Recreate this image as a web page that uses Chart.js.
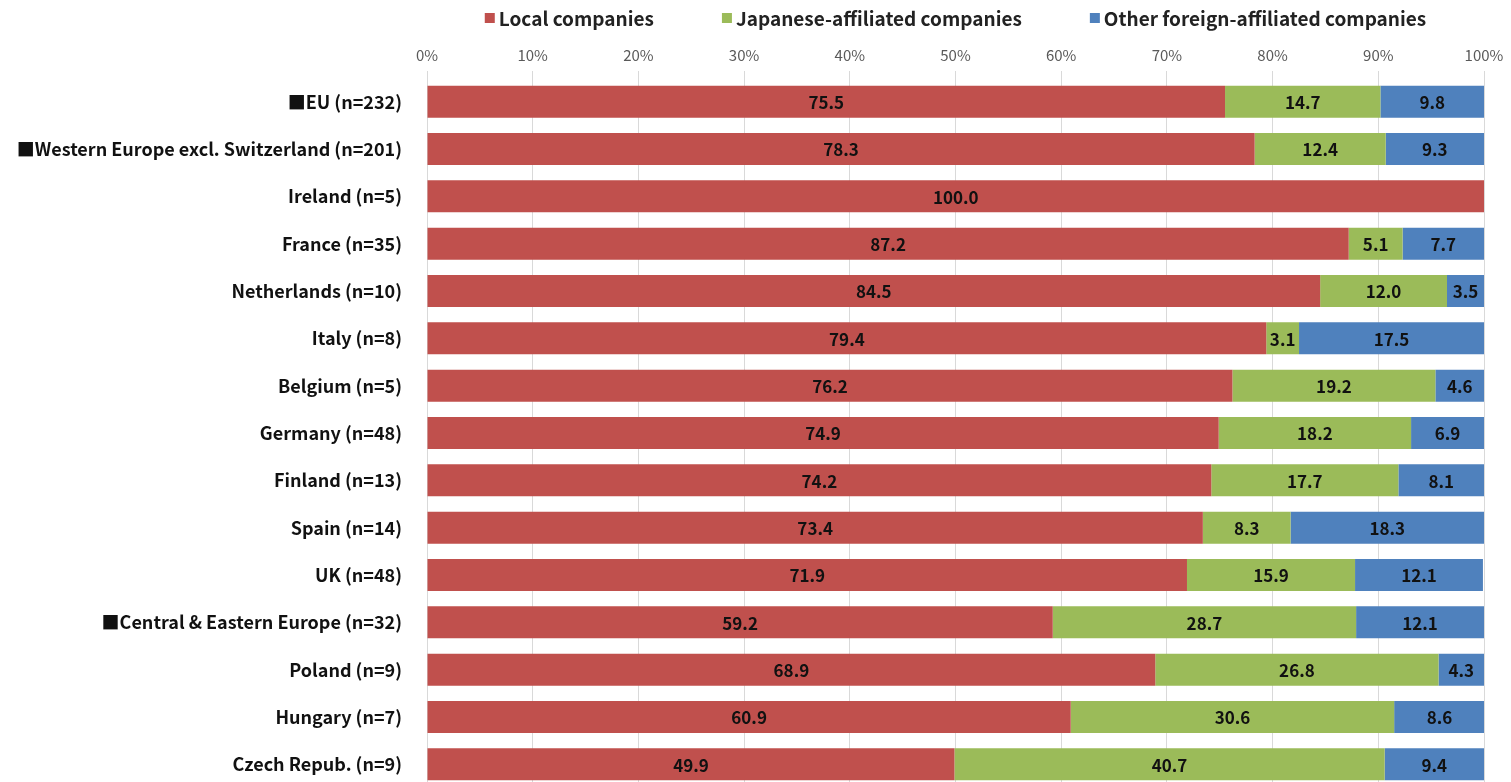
<!DOCTYPE html>
<html>
<head>
<meta charset="utf-8">
<script src="https://cdn.jsdelivr.net/npm/chart.js@4/dist/chart.umd.min.js"></script>
<style>
  html, body { margin: 0; padding: 0; background: #fff; overflow: hidden; }
  canvas { display: block; }
</style>
</head>
<body>
<!-- a little taller than the window: the original's last row is cut at the bottom edge -->
<canvas id="chart" width="1511" height="788"></canvas>
<script>
const regions = [
    '■EU (n=232)',
    '■Western Europe excl. Switzerland (n=201)',
    'Ireland (n=5)',
    'France (n=35)',
    'Netherlands (n=10)',
    'Italy (n=8)',
    'Belgium (n=5)',
    'Germany (n=48)',
    'Finland (n=13)',
    'Spain (n=14)',
    'UK (n=48)',
    '■Central & Eastern Europe (n=32)',
    'Poland (n=9)',
    'Hungary (n=7)',
    'Czech Repub. (n=9)',
];

const localCompanies     = [75.5, 78.3, 100.0, 87.2, 84.5, 79.4, 76.2, 74.9, 74.2, 73.4, 71.9, 59.2, 68.9, 60.9, 49.9];
const japaneseAffiliated = [14.7, 12.4, 0, 5.1, 12.0, 3.1, 19.2, 18.2, 17.7, 8.3, 15.9, 28.7, 26.8, 30.6, 40.7];
const otherForeign       = [9.8, 9.3, 0, 7.7, 3.5, 17.5, 4.6, 6.9, 8.1, 18.3, 12.1, 12.1, 4.3, 8.6, 9.4];

const seriesNames  = ['Local companies', 'Japanese-affiliated companies', 'Other foreign-affiliated companies'];
const seriesColors = ['#C0504D', '#9BBB59', '#4F81BD'];
const xTicks = [0, 10, 20, 30, 40, 50, 60, 70, 80, 90, 100];

const FONT = '"Noto Sans CJK JP", "Noto Sans", sans-serif';

// value in the middle of each segment, empty segments skipped
const barValues = {
    id: 'barValues',
    afterDatasetsDraw(chart) {
        const ctx = chart.ctx;
        ctx.save();
        ctx.font = `bold 17px ${FONT}`;
        ctx.fillStyle = '#111';
        ctx.textAlign = 'center';
        ctx.textBaseline = 'middle';
        chart.data.datasets.forEach((ds, di) => {
            chart.getDatasetMeta(di).data.forEach((bar, i) => {
                const v = ds.data[i];
                if (!v) return;
                ctx.fillText(v.toFixed(1), (bar.x + bar.base) / 2, bar.y + 1);
            });
        });
        ctx.restore();
    },
};

// legend row drawn above the axis, centred on the plot area, wide gaps like the original
const topLegend = {
    id: 'topLegend',
    afterDraw(chart) {
        const ctx = chart.ctx;
        const box = 10, gap = 4, spacing = 68, y = 18;
        ctx.save();
        ctx.font = `bold 19px ${FONT}`;
        ctx.textBaseline = 'middle';
        const items = chart.data.datasets.map(ds => ({
            text: ds.label, color: ds.backgroundColor, w: ctx.measureText(ds.label).width,
        }));
        const total = items.reduce((s, it) => s + box + gap + it.w, 0) + spacing * (items.length - 1);
        let x = (chart.chartArea.left + chart.chartArea.right) / 2 - total / 2;
        items.forEach(it => {
            ctx.fillStyle = it.color;
            ctx.fillRect(x, y - box / 2, box, box);
            x += box + gap;
            ctx.fillStyle = '#222';
            ctx.fillText(it.text, x, y + 1);
            x += it.w + spacing;
        });
        ctx.restore();
    },
};

const seriesData = [localCompanies, japaneseAffiliated, otherForeign];

new Chart(document.getElementById('chart'), {
    type: 'bar',
    data: {
        labels: regions,
        datasets: seriesNames.map((name, i) => ({
            label: name,
            data: seriesData[i],
            backgroundColor: seriesColors[i],
            borderWidth: 0,
            categoryPercentage: 1,
            barPercentage: 0.675,
        })),
    },
    plugins: [barValues, topLegend],
    options: {
        responsive: false,
        indexAxis: 'y',
        animation: false,
        layout: { padding: { left: 0, right: 27, top: 44, bottom: 0 } },
        plugins: {
            tooltip: { enabled: false },
            legend: { display: false },
        },
        scales: {
            x: {
                stacked: true,
                position: 'top',
                min: 0,
                max: 100,
                afterBuildTicks: (axis) => { axis.ticks = xTicks.map(v => ({ value: v })); },
                afterFit: (axis) => { axis.height = 34; },
                ticks: {
                    callback: (v) => v + '%',
                    color: '#595959',
                    padding: 7,
                    font: { family: FONT, size: 15 },
                    maxRotation: 0,
                },
                grid: { color: '#d9d9d9', tickLength: 7 },
                border: { display: false },
            },
            y: {
                stacked: true,
                afterFit: (axis) => {
                    axis.width = 427;
                    axis.paddingTop = 0;
                    axis.paddingBottom = 0;
                },
                ticks: {
                    color: '#111',
                    padding: 17,
                    font: { family: FONT, size: 18, weight: 'bold' },
                },
                grid: { display: false },
                border: { display: true, color: '#d9d9d9' },
            },
        },
    },
});
</script>
</body>
</html>
